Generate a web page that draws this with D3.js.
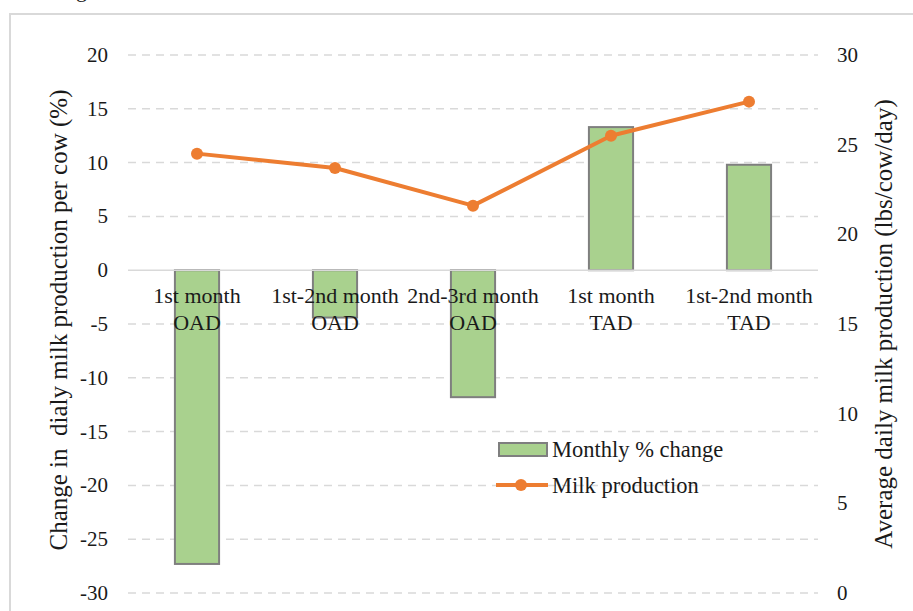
<!DOCTYPE html>
<html>
<head>
<meta charset="utf-8">
<script src="https://cdn.jsdelivr.net/npm/d3@7"></script>
<style>
  body { margin: 0; background: #fff; }
  svg text { font-family: "Liberation Serif", "Times New Roman", serif; fill: #1a1a1a; }
</style>
</head>
<body>
<svg id="chart" width="913" height="611" font-family="Liberation Serif, serif"></svg>
<script>
'use strict'

// chart data
const categories = [['1st month', 'OAD'], ['1st-2nd month', 'OAD'], ['2nd-3rd month', 'OAD'], ['1st month', 'TAD'], ['1st-2nd month', 'TAD']]
const pctChange = [-27.3, -4.4, -11.8, 13.3, 9.8]
const milkProd = [24.5, 23.7, 21.6, 25.5, 27.4]
const leftTicks = [20, 15, 10, 5, 0, -5, -10, -15, -20, -25, -30]
const rightTicks = [30, 25, 20, 15, 10, 5, 0]

const svg = d3.select('#chart')
const m = {left: 128, right: 818, top: 55, bottom: 593}

// outer frame (chart area border, partly cut off)
svg.append('rect')
  .attr('x', 10).attr('y', 14).attr('width', 940).attr('height', 640)
  .attr('fill', 'none').attr('stroke', '#d9d9d9').attr('stroke-width', 2)

// bit of caption above the frame
svg.append('text').attr('x', 76).attr('y', -3).style('font-size', '22px').text('g')

const x = d3.scaleBand().domain(d3.range(categories.length)).range([m.left, m.right]).paddingInner(0.68).paddingOuter(0.34)
const y = d3.scaleLinear().domain([-30, 20]).range([m.bottom, m.top])
const y2 = d3.scaleLinear().domain([0, 30]).range([m.bottom, m.top])

// gridlines
svg.append('g').selectAll('line')
  .data(leftTicks.filter(d => d !== 0))
  .enter().append('line')
  .attr('x1', m.left).attr('x2', m.right)
  .attr('y1', d => y(d)).attr('y2', d => y(d))
  .attr('stroke', '#d9d9d9').attr('stroke-width', 1.5)
  .attr('stroke-dasharray', '8,6')

// bars
svg.append('g').selectAll('rect')
  .data(pctChange)
  .enter().append('rect')
  .attr('x', (d, i) => x(i))
  .attr('width', x.bandwidth())
  .attr('y', d => y(Math.max(0, d)))
  .attr('height', d => Math.abs(y(d) - y(0)))
  .attr('fill', '#a9d18e')
  .attr('stroke', '#7f7f7f').attr('stroke-width', 2)

// zero line
svg.append('line')
  .attr('x1', m.left).attr('x2', m.right)
  .attr('y1', y(0)).attr('y2', y(0))
  .attr('stroke', '#d9d9d9').attr('stroke-width', 1.5)

// category labels
const cat = svg.append('g').selectAll('text')
  .data(categories)
  .enter().append('text')
  .attr('text-anchor', 'middle')
  .style('font-size', '22px')
cat.append('tspan')
  .attr('x', (d, i) => x(i) + x.bandwidth() / 2).attr('y', 303)
  .text(d => d[0])
cat.append('tspan')
  .attr('x', (d, i) => x(i) + x.bandwidth() / 2).attr('y', 330)
  .text(d => d[1])

// line series
const cx = i => x(i) + x.bandwidth() / 2
svg.append('path')
  .datum(milkProd)
  .attr('d', d3.line().x((d, i) => cx(i)).y(d => y2(d)))
  .attr('fill', 'none').attr('stroke', '#ed7d31').attr('stroke-width', 4)
  .attr('stroke-linejoin', 'round')
svg.append('g').selectAll('circle')
  .data(milkProd)
  .enter().append('circle')
  .attr('cx', (d, i) => cx(i)).attr('cy', d => y2(d))
  .attr('r', 6).attr('fill', '#ed7d31')

// axes tick labels
svg.append('g').selectAll('text')
  .data(leftTicks)
  .enter().append('text')
  .attr('x', 108).attr('y', d => y(d) + 7)
  .attr('text-anchor', 'end')
  .style('font-size', '21px')
  .text(d => d)
svg.append('g').selectAll('text')
  .data(rightTicks)
  .enter().append('text')
  .attr('x', 837).attr('y', d => y2(d) + 7)
  .style('font-size', '21px')
  .text(d => d)

// axis titles
svg.append('text')
  .attr('transform', 'translate(67,320)rotate(-90)')
  .attr('text-anchor', 'middle')
  .style('font-size', '25px')
  .style('white-space', 'pre')
  .text('Change in  dialy milk production per cow (%)')
svg.append('text')
  .attr('transform', 'translate(892,324)rotate(-90)')
  .attr('text-anchor', 'middle')
  .style('font-size', '25px')
  .text('Average daily milk production (lbs/cow/day)')

// legend
const lg = svg.append('g')
lg.append('rect')
  .attr('x', 499).attr('y', 443).attr('width', 48).attr('height', 13)
  .attr('fill', '#a9d18e').attr('stroke', '#7f7f7f').attr('stroke-width', 2)
lg.append('text').attr('x', 552).attr('y', 457).style('font-size', '22.5px').text('Monthly % change')
lg.append('line')
  .attr('x1', 496).attr('x2', 548).attr('y1', 485).attr('y2', 485)
  .attr('stroke', '#ed7d31').attr('stroke-width', 4)
lg.append('circle').attr('cx', 521).attr('cy', 485).attr('r', 6).attr('fill', '#ed7d31')
lg.append('text').attr('x', 552).attr('y', 493).style('font-size', '22.5px').text('Milk production')
</script>
</body>
</html>
